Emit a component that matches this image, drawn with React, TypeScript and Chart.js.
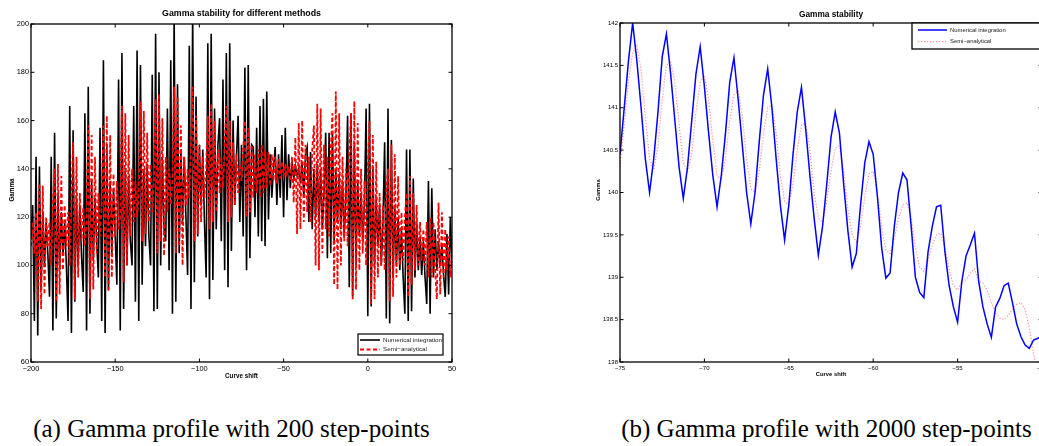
import React, { useEffect, useRef } from "react";
import { Chart, registerables } from "chart.js";

Chart.register(...registerables);

const SANS = '"Liberation Sans", Arial, Helvetica, sans-serif';
const SERIF = '"Liberation Serif", "Times New Roman", serif';

// ---------- Panel (a): 200 step-points, x = -200 .. 50 step 1 ----------
const LEFT_X_START = -200;
const LEFT_X_STEP = 1;
const leftXTicks = [-200, -150, -100, -50, 0, 50];
const leftYTicks = [60, 80, 100, 120, 140, 160, 180, 200];

const leftNumerical = [
  112, 125, 77, 145, 71, 141, 90, 122, 100, 118,
  105, 87, 145, 73, 155, 78, 130, 98, 122, 104,
  118, 100, 77, 166, 72, 156, 85, 128, 100, 125,
  104, 89, 163, 73, 174, 80, 135, 102, 128, 110,
  95, 157, 77, 185, 72, 150, 90, 135, 105, 132,
  112, 92, 177, 73, 188, 82, 140, 100, 137, 110,
  100, 166, 85, 189, 77, 183, 92, 140, 108, 142,
  112, 100, 179, 81, 196, 82, 180, 100, 145, 115,
  110, 165, 98, 185, 80, 205, 85, 175, 105, 148,
  118, 145, 120, 96, 191, 82, 205, 93, 170, 112,
  150, 125, 148, 118, 95, 192, 86, 196, 94, 165,
  115, 150, 161, 110, 177, 98, 188, 91, 192, 106,
  160, 125, 145, 162, 118, 150, 112, 182, 98, 183,
  103, 150, 149, 120, 157, 112, 166, 110, 169, 108,
  172, 119, 146, 128, 140, 149, 125, 146, 128, 154,
  120, 157, 127, 146, 132, 143, 136, 141, 137, 140,
  134, 143, 128, 146, 149, 118, 147, 115, 140, 120,
  142, 118, 140, 115, 130, 155, 103, 155, 105, 155,
  110, 140, 118, 138, 115, 135, 112, 128, 162, 91,
  163, 87, 150, 100, 135, 112, 130, 110, 125, 165,
  79, 167, 83, 140, 100, 128, 108, 125, 100, 118,
  151, 78, 165, 76, 152, 95, 125, 100, 120, 98,
  115, 95, 80, 148, 77, 148, 81, 136, 95, 118,
  98, 112, 96, 110, 95, 84, 135, 80, 132, 95,
  115, 98, 110, 100, 108, 96, 87, 113, 88, 120,
  100,
];

const leftSemi = [
  108, 118, 105, 122, 85, 134, 82, 133, 88, 120,
  108, 118, 100, 125, 140, 85, 142, 88, 137, 98,
  125, 108, 122, 100, 128, 151, 86, 145, 95, 130,
  110, 124, 108, 118, 158, 86, 154, 90, 145, 105,
  130, 112, 125, 158, 95, 162, 89, 154, 95, 138,
  112, 135, 115, 120, 166, 93, 163, 100, 154, 112,
  140, 118, 135, 120, 130, 168, 110, 164, 113, 155,
  118, 142, 122, 135, 169, 105, 171, 110, 161, 104,
  145, 122, 140, 125, 135, 174, 105, 170, 108, 158,
  100, 145, 125, 140, 128, 150, 174, 110, 162, 113,
  150, 118, 145, 128, 140, 162, 115, 167, 118, 160,
  122, 148, 130, 145, 132, 150, 166, 118, 160, 120,
  151, 125, 146, 130, 142, 135, 148, 160, 120, 157,
  122, 150, 128, 146, 130, 148, 128, 150, 130, 148,
  132, 147, 133, 146, 135, 145, 134, 144, 136, 143,
  137, 142, 138, 141, 135, 145, 126, 153, 113, 159,
  115, 160, 118, 150, 122, 145, 118, 148, 158, 100,
  167, 98, 165, 105, 150, 115, 145, 112, 148, 163,
  92, 172, 90, 163, 100, 145, 110, 140, 108, 145,
  163, 86, 168, 90, 159, 98, 140, 105, 135, 100,
  140, 160, 84, 154, 86, 143, 95, 130, 100, 125,
  98, 130, 140, 85, 150, 87, 146, 95, 137, 100,
  122, 102, 120, 130, 87, 137, 92, 130, 98, 125,
  100, 118, 102, 115, 100, 118, 95, 120, 95, 118,
  98, 86, 126, 88, 122, 95, 115, 98, 112, 95,
  105,
];

// ---------- Panel (b): 2000 step-points, x = -75 .. -50 step 0.25 ----------
const RIGHT_X_START = -75;
const RIGHT_X_STEP = 0.25;
const rightXTicks = [-75, -70, -65, -60, -55, -50];
const rightYTicks = [138, 138.5, 139, 139.5, 140, 140.5, 141, 141.5, 142];

const rightNumerical = [
  140.45, 141.0, 141.55, 142.0,
  141.55, 141.0, 140.4, 140.0,
  140.4, 140.95, 141.6, 141.87,
  141.4, 140.85, 140.3, 139.93,
  140.3, 140.85, 141.4, 141.72,
  141.25, 140.7, 140.2, 139.83,
  140.2, 140.7, 141.3, 141.59,
  141.1, 140.55, 140.0, 139.63,
  140.0, 140.6, 141.15, 141.46,
  141.0, 140.4, 139.85, 139.44,
  139.85, 140.45, 140.95, 141.24,
  140.75, 140.2, 139.7, 139.26,
  139.6, 140.1, 140.65, 140.95,
  140.7, 140.1, 139.55, 139.12,
  139.28, 139.85, 140.35, 140.6,
  140.45, 139.95, 139.35, 138.99,
  139.05, 139.6, 140.0, 140.23,
  140.15, 139.6, 139.0, 138.82,
  138.76, 139.3, 139.6, 139.83,
  139.85, 139.3, 138.9, 138.65,
  138.47, 138.95, 139.25, 139.38,
  139.52, 138.95, 138.65, 138.45,
  138.29, 138.65, 138.75, 138.9,
  138.93, 138.7, 138.45, 138.3,
  138.2, 138.16, 138.26, 138.28,
  138.3,
];

const rightSemi = [
  140.3, 140.8, 141.3, 141.65,
  141.73, 141.45, 140.9, 140.4,
  140.27, 140.55, 141.1, 141.5,
  141.55, 141.3, 140.8, 140.35,
  140.25, 140.45, 140.95, 141.3,
  141.38, 141.1, 140.6, 140.2,
  140.15, 140.4, 140.85, 141.15,
  141.2, 140.9, 140.4, 140.05,
  140.0, 140.25, 140.7, 141.0,
  141.03, 140.7, 140.2, 139.9,
  139.85, 140.1, 140.5, 140.8,
  140.82, 140.5, 140.0, 139.7,
  139.65, 139.9, 140.25, 140.52,
  140.55, 140.25, 139.8, 139.5,
  139.42, 139.6, 139.95, 140.22,
  140.25, 140.0, 139.6, 139.32,
  139.28, 139.45, 139.7, 139.85,
  139.88, 139.7, 139.35, 139.12,
  139.07, 139.2, 139.38, 139.5,
  139.52, 139.35, 139.1, 138.9,
  138.85, 138.95, 138.97, 139.05,
  139.1, 138.95, 138.93, 138.85,
  138.7, 138.58, 138.52, 138.5,
  138.55, 138.62, 138.68, 138.7,
  138.62, 138.4, 138.1, 137.85,
  137.7,
];

const SERIES_NAMES = ["Numerical integration", "Semi\u2212analytical"];
const CAPTIONS = ["(a) Gamma profile with 200 step-points", "(b) Gamma profile with 2000 step-points"];

const toPoints = (start: number, step: number, values: number[]) =>
  values.map((v, i) => ({ x: start + i * step, y: v }));

const fmt = (v: any) => {
  const n = Math.round(Number(v) * 100) / 100;
  return String(n).replace("-", "\u2212");
};

const matlabFrame = {
  id: "matlabFrame",
  afterDraw(chart: any, _args: any, o: any) {
    const { ctx, chartArea: a } = chart;
    const xs = chart.scales.x;
    const ys = chart.scales.y;
    ctx.save();
    ctx.strokeStyle = "#000";
    ctx.setLineDash([]);
    ctx.lineWidth = 1;
    const L = o.tickLen;
    ctx.beginPath();
    xs.ticks.forEach((t: any) => {
      const p = xs.getPixelForValue(t.value);
      ctx.moveTo(p, a.bottom);
      ctx.lineTo(p, a.bottom - L);
      ctx.moveTo(p, a.top);
      ctx.lineTo(p, a.top + L);
    });
    ys.ticks.forEach((t: any) => {
      const p = ys.getPixelForValue(t.value);
      ctx.moveTo(a.left, p);
      ctx.lineTo(a.left + L, p);
      ctx.moveTo(a.right, p);
      ctx.lineTo(a.right - L, p);
    });
    ctx.stroke();
    ctx.lineWidth = o.frameWidth;
    ctx.strokeRect(a.left, a.top, a.right - a.left, a.bottom - a.top);

    // legend
    const lg = o.legend;
    ctx.fillStyle = "#fff";
    ctx.fillRect(lg.x, lg.y, lg.w, lg.h);
    ctx.lineWidth = lg.borderWidth;
    ctx.strokeStyle = "#000";
    ctx.strokeRect(lg.x, lg.y, lg.w, lg.h);
    ctx.font = `${lg.fontSize}px ${SANS}`;
    ctx.textBaseline = "middle";
    ctx.textAlign = "left";
    chart.data.datasets.forEach((ds: any, i: number) => {
      const row = lg.rows[i];
      ctx.save();
      ctx.strokeStyle = ds.borderColor;
      ctx.lineWidth = ds.borderWidth;
      ctx.setLineDash(ds.borderDash || []);
      ctx.beginPath();
      ctx.moveTo(lg.lineX0, row);
      ctx.lineTo(lg.lineX1, row);
      ctx.stroke();
      ctx.restore();
      ctx.fillStyle = "#222";
      ctx.fillText(ds.label, lg.textX, row);
    });

    // titles
    ctx.fillStyle = "#000";
    ctx.textAlign = "center";
    ctx.textBaseline = "middle";
    ctx.font = `bold ${o.titleSize}px ${SANS}`;
    ctx.fillText(o.title, (a.left + a.right) / 2, o.titleY);
    ctx.font = `bold ${o.axisSize}px ${SANS}`;
    ctx.fillText(o.xTitle, (a.left + a.right) / 2, o.xTitleY);
    ctx.translate(o.yTitleX, o.yTitleY);
    ctx.rotate(-Math.PI / 2);
    ctx.fillText(o.yTitle, 0, 0);
    ctx.restore();
  },
};

function buildConfig(p: any): any {
  return {
    type: "line",
    data: { datasets: p.datasets },
    options: {
      animation: false,
      responsive: false,
      events: [],
      layout: { padding: p.padding },
      plugins: {
        legend: { display: false },
        title: { display: false },
        tooltip: { enabled: false },
        matlabFrame: p.frame,
      },
      scales: {
        x: {
          type: "linear",
          min: p.xMin,
          max: p.xMax,
          afterFit: (s: any) => {
            s.height = p.xAxisH;
          },
          afterBuildTicks: (s: any) => {
            s.ticks = p.xTicks.map((v: number) => ({ value: v }));
          },
          grid: { display: false, drawTicks: false },
          border: { display: false },
          ticks: {
            autoSkip: false,
            maxRotation: 0,
            padding: p.xPad,
            color: "#000",
            font: { family: SANS, size: p.tickSize },
            callback: fmt,
          },
        },
        y: {
          type: "linear",
          min: p.yMin,
          max: p.yMax,
          afterFit: (s: any) => {
            s.width = p.yAxisW;
          },
          afterBuildTicks: (s: any) => {
            s.ticks = p.yTicks.map((v: number) => ({ value: v }));
          },
          grid: { display: false, drawTicks: false },
          border: { display: false },
          ticks: {
            autoSkip: false,
            padding: 2,
            color: "#000",
            font: { family: SANS, size: p.tickSize },
            callback: fmt,
          },
        },
      },
    },
    plugins: [matlabFrame],
  };
}

function fitSize(text: string, family: string, width: number) {
  try {
    const c = document.createElement("canvas").getContext("2d");
    if (!c) return 22;
    c.font = `100px ${family}`;
    const w = c.measureText(text).width;
    return (100 * width) / w;
  } catch (e) {
    return 22;
  }
}

export default function App() {
  const leftRef = useRef<HTMLCanvasElement>(null);
  const rightRef = useRef<HTMLCanvasElement>(null);

  useEffect(() => {
    const left = new Chart(
      leftRef.current as HTMLCanvasElement,
      buildConfig({
        datasets: [
          {
            label: SERIES_NAMES[0],
            data: toPoints(LEFT_X_START, LEFT_X_STEP, leftNumerical),
            borderColor: "#000000",
            borderWidth: 1.6,
            pointRadius: 0,
            tension: 0,
            order: 2,
          },
          {
            label: SERIES_NAMES[1],
            data: toPoints(LEFT_X_START, LEFT_X_STEP, leftSemi),
            borderColor: "#ff0000",
            borderWidth: 1.8,
            borderDash: [4, 2.5],
            pointRadius: 0,
            tension: 0,
            order: 1,
          },
        ],
        padding: { left: 0, top: 24, right: 18, bottom: 0 },
        xMin: -200,
        xMax: 50,
        yMin: 60,
        yMax: 200,
        xTicks: leftXTicks,
        yTicks: leftYTicks,
        xAxisH: 28,
        yAxisW: 31,
        xPad: 3,
        tickSize: 7.4,
        frame: {
          tickLen: 3.5,
          frameWidth: 1.3,
          title: "Gamma stability for different methods",
          titleSize: 8.8,
          titleY: 14,
          xTitle: "Curve shift",
          xTitleY: 376,
          axisSize: 6.3,
          yTitle: "Gamma",
          yTitleX: 12,
          yTitleY: 190,
          legend: {
            x: 358,
            y: 334,
            w: 85,
            h: 21,
            borderWidth: 1.2,
            fontSize: 6.25,
            rows: [340, 349.5],
            lineX0: 360,
            lineX1: 380,
            textX: 383,
          },
        },
      })
    );
    const right = new Chart(
      rightRef.current as HTMLCanvasElement,
      buildConfig({
        datasets: [
          {
            label: SERIES_NAMES[0],
            data: toPoints(RIGHT_X_START, RIGHT_X_STEP, rightNumerical),
            borderColor: "#0000ff",
            borderWidth: 1.5,
            pointRadius: 0,
            tension: 0,
            order: 1,
          },
          {
            label: SERIES_NAMES[1],
            data: toPoints(RIGHT_X_START, RIGHT_X_STEP, rightSemi),
            borderColor: "rgba(255,70,70,0.6)",
            borderWidth: 1.2,
            borderDash: [1.2, 1.8],
            pointRadius: 0,
            tension: 0,
            order: 2,
          },
        ],
        padding: { left: 0, top: 23, right: 28, bottom: 0 },
        xMin: -75,
        xMax: -50,
        yMin: 138,
        yMax: 142,
        xTicks: rightXTicks,
        yTicks: rightYTicks,
        xAxisH: 28,
        yAxisW: 50,
        xPad: 3,
        tickSize: 6,
        frame: {
          tickLen: 3.5,
          frameWidth: 1.3,
          title: "Gamma stability",
          titleSize: 8.3,
          titleY: 15,
          xTitle: "Curve shift",
          xTitleY: 374,
          axisSize: 5.8,
          yTitle: "Gamma",
          yTitleX: 28,
          yTitleY: 190,
          legend: {
            x: 342,
            y: 23,
            w: 140,
            h: 26,
            borderWidth: 1.3,
            fontSize: 5.9,
            rows: [30, 41.7],
            lineX0: 348,
            lineX1: 377,
            textX: 380,
          },
        },
      })
    );
    return () => {
      left.destroy();
      right.destroy();
    };
  }, []);

  const capSize = fitSize(CAPTIONS[0], SERIF, 397);

  return (
    <div
      style={{
        position: "absolute",
        left: 0,
        top: 0,
        width: 1039,
        height: 446,
        overflow: "hidden",
        background: "#fff",
      }}
    >
      <canvas
        ref={leftRef}
        width={470}
        height={390}
        style={{ position: "absolute", left: 0, top: 0, width: 470, height: 390 }}
      />
      <canvas
        ref={rightRef}
        width={500}
        height={390}
        style={{ position: "absolute", left: 570, top: 0, width: 500, height: 390 }}
      />
      <div
        style={{
          position: "absolute",
          left: 231.5 - 300,
          width: 600,
          textAlign: "center",
          top: 429 - capSize * 0.6,
          fontFamily: SERIF,
          fontSize: capSize,
          lineHeight: `${capSize * 1.2}px`,
          whiteSpace: "nowrap",
          color: "#000",
        }}
      >
        {CAPTIONS[0]}
      </div>
      <div
        style={{
          position: "absolute",
          left: 826.5 - 300,
          width: 600,
          textAlign: "center",
          top: 429 - capSize * 0.6,
          fontFamily: SERIF,
          fontSize: capSize,
          lineHeight: `${capSize * 1.2}px`,
          whiteSpace: "nowrap",
          color: "#000",
        }}
      >
        {CAPTIONS[1]}
      </div>
    </div>
  );
}
